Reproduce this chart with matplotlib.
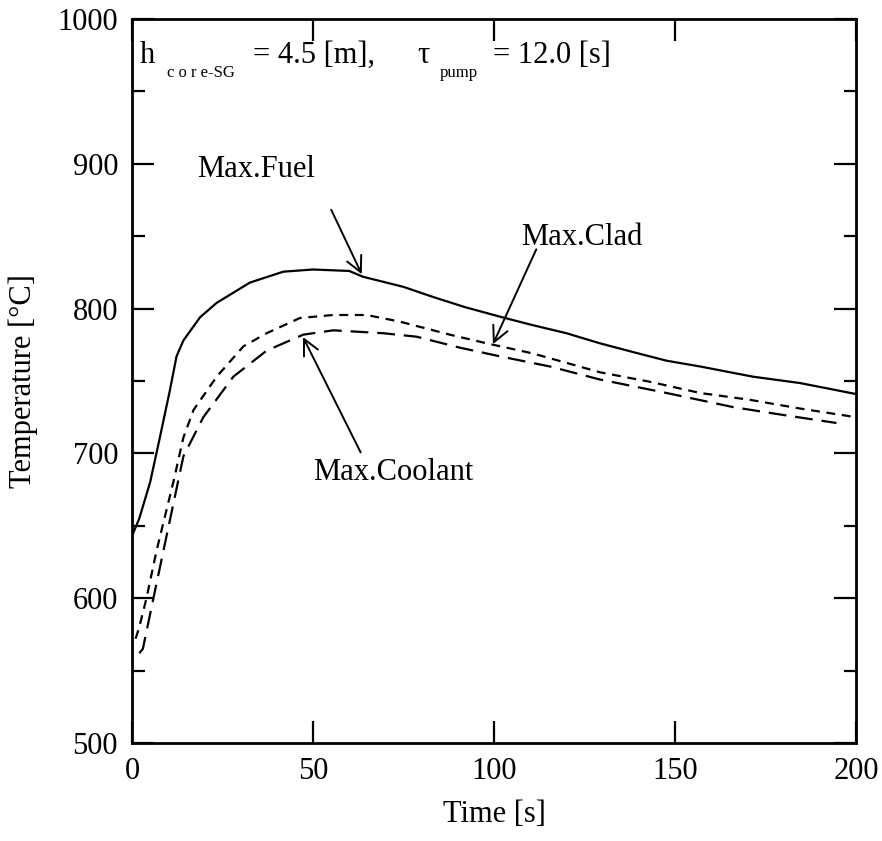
import matplotlib
matplotlib.use("Agg")
import matplotlib.pyplot as plt
from matplotlib.ticker import MultipleLocator

plt.rcParams['font.family'] = ['Liberation Serif', 'DejaVu Serif']

# ---- data ----
t_fuel = [0, 2, 5, 7.7, 10.5, 12.3, 14.2, 18.8, 23.4, 32.6, 41.8, 50, 60, 63.8,
          75, 83.2, 92, 101.7, 110, 120, 129.3, 138.4, 147.7, 157, 171.5, 184.5, 200]
T_fuel = [643, 655, 680, 711, 744, 767, 778, 794, 804, 818, 825.5, 827, 826, 822,
          815, 808, 801, 794.4, 789, 783, 776, 770, 764, 760, 753, 748.6, 741]

t_clad = [1, 2, 4, 6.8, 11.4, 14.2, 17, 23.4, 30.8, 37.2, 46.4, 55.6, 64.8, 74,
          87.8, 98, 110.8, 129.3, 143, 157, 170.7, 184.5, 200]
T_clad = [572, 580, 600, 633, 680, 711, 730, 753, 774, 783, 793.5, 795.6, 795.6, 791,
          782, 776, 769, 756, 749.5, 741.7, 737, 731, 725]

t_cool = [2, 3, 5.5, 8.7, 14.2, 19.7, 28, 37.2, 47.3, 55.6, 69.4, 78.6, 90.6,
          101.7, 115.5, 129.3, 147.7, 166, 180, 194.6]
T_cool = [562, 565, 595, 633, 698, 725, 753, 771, 782, 785, 783, 780.6, 773,
          767, 760, 751, 741.7, 732, 726.5, 721]

x_ticks = [0, 50, 100, 150, 200]
y_ticks = [500, 600, 700, 800, 900, 1000]

fig = plt.figure(figsize=(8.82, 8.41), dpi=100)
ax = fig.add_axes([132/882, 1-743/841, (856-132)/882, (743-19)/841])

ax.plot(t_fuel, T_fuel, color='black', lw=1.6, ls='-')
ax.plot(t_clad, T_clad, color='black', lw=1.6, ls=(0, (4, 3)))
ax.plot(t_cool, T_cool, color='black', lw=1.6, ls=(0, (8, 4)))

ax.set_xlim(0, 200)
ax.set_ylim(500, 1000)
ax.set_xticks(x_ticks)
ax.set_yticks(y_ticks)
ax.yaxis.set_minor_locator(MultipleLocator(50))
ax.tick_params(which='both', direction='in', top=True, right=True, labelsize=22,
               width=1.6, color='black')
ax.tick_params(which='major', length=16, pad=10)
ax.tick_params(which='minor', length=9)
for s in ax.spines.values():
    s.set_linewidth(2.0)

ax.set_xlabel('Time [s]', fontsize=22, labelpad=10)
ax.set_ylabel('Temperature [°C]', fontsize=22, labelpad=14)

# header text
fs = 22
ax.text(2.2, 969.6, 'h', fontsize=fs, va='baseline')
ax.text(9.7, 960, 'c o r e-SG', fontsize=12, va='baseline')
ax.text(33.4, 969.6, '= 4.5 [m],', fontsize=fs, va='baseline')
ax.text(78.7, 969.6, 'τ', fontsize=fs, va='baseline')
ax.text(85.1, 960, 'pump', fontsize=12, va='baseline')
ax.text(99.7, 969.6, '= 12.0 [s]', fontsize=fs, va='baseline')

arrow = dict(arrowstyle='->', color='black', lw=1.4, mutation_scale=28)
ax.text(34.3, 896, 'Max.Fuel', fontsize=fs, ha='center', va='center')
ax.annotate('', xy=(63.8, 822), xytext=(54.7, 870), arrowprops=arrow)
ax.text(107.5, 849, 'Max.Clad', fontsize=fs, ha='left', va='center')
ax.annotate('', xy=(99.4, 773.7), xytext=(112, 842.7), arrowprops=arrow)
ax.text(50, 686.5, 'Max.Coolant', fontsize=fs, ha='left', va='center')
ax.annotate('', xy=(46.9, 782), xytext=(63.5, 699), arrowprops=arrow)

fig.savefig('out.png', dpi=100)
